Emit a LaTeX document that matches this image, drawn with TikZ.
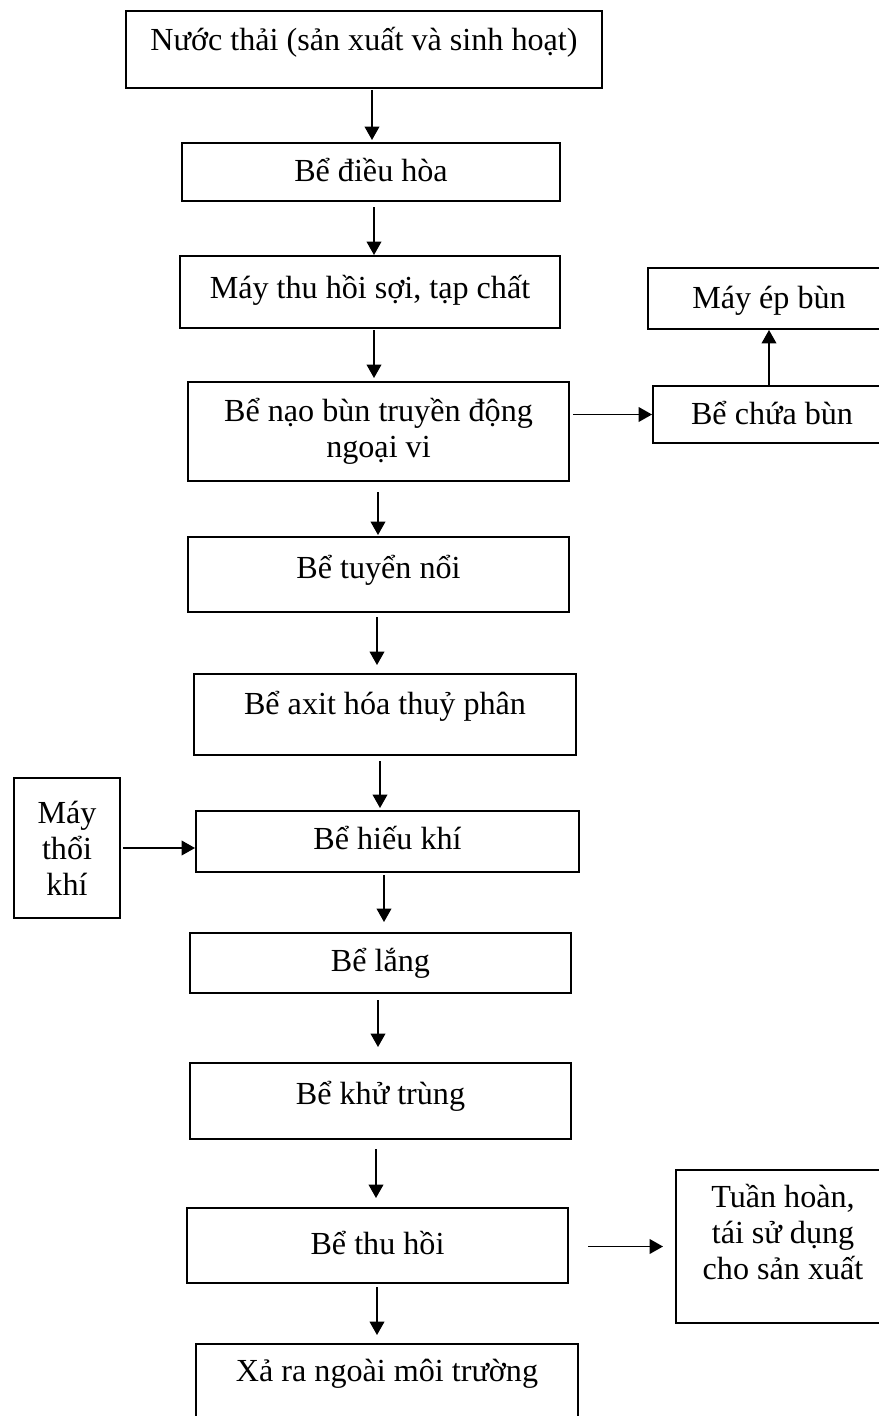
\documentclass[tikz,border=0pt]{standalone}
\usepackage{fontspec}
\setmainfont{Liberation Serif}
\usetikzlibrary{arrows.meta}

\newlength{\px}
\setlength{\px}{0.75pt}

\tikzset{
  stage/.style={draw, line width=1.5pt, anchor=north west, align=center,
    inner xsep=0pt, inner ysep=0pt, text height=15pt,
    font=\fontsize{24.1pt}{27pt}\selectfont},
  flow/.style={line width=1.1pt, -{Triangle[length=10pt,width=11pt]}}
}

\begin{document}
\begin{tikzpicture}[x=\px, y=-\px]

\useasboundingbox (0,0) rectangle (878,1416);

% main line of tanks
\node[stage, minimum width=476\px, minimum height=77\px, text depth=17\px] (nuoc) at (125,10) {Nước thải (sản xuất và sinh hoạt)};
\node[stage, minimum width=378\px, minimum height=58\px, text depth=2\px] (dieuhoa) at (181,142) {Bể điều hòa};
\node[stage, minimum width=380\px, minimum height=72\px, text depth=8\px] (maythuhoi) at (179,255) {Máy thu hồi sợi, tạp chất};
\node[stage, minimum width=381\px, minimum height=99\px, text height=, text depth=] (naobun) at (187,381) {Bể nạo bùn truyền động\\ngoại vi};
\node[stage, minimum width=381\px, minimum height=75\px, text depth=13\px] (tuyennoi) at (187,536) {Bể tuyển nổi};
\node[stage, minimum width=382\px, minimum height=81\px, text depth=21\px] (axit) at (193,673) {Bể axit hóa thuỷ phân};
\node[stage, minimum width=383\px, minimum height=61\px, text depth=5\px] (hieukhi) at (195,810) {Bể hiếu khí};
\node[stage, minimum width=381\px, minimum height=60\px, text depth=4\px] (lang) at (189,932) {Bể lắng};
\node[stage, minimum width=381\px, minimum height=76\px, text depth=14\px] (khutrung) at (189,1062) {Bể khử trùng};
\node[stage, minimum width=381\px, minimum height=75\px, text depth=3\px] (thuhoi) at (186,1207) {Bể thu hồi};
\node[stage, minimum width=382\px, minimum height=76\px, text depth=22\px] (xa) at (195,1343) {Xả ra ngoài môi trường};

% side boxes
\node[stage, minimum width=242\px, minimum height=61\px, text depth=0pt] (epbun) at (647,267) {Máy ép bùn};
\node[stage, minimum width=238\px, minimum height=57\px, text depth=0pt] (chuabun) at (652,385) {Bể chứa bùn};
\node[stage, minimum width=106\px, minimum height=140\px, text height=, text depth=] (thoikhi) at (13,777) {Máy\\thổi\\khí};
\node[stage, minimum width=214\px, minimum height=153\px, text height=, text depth=30\px] (tuanhoan) at (675,1169) {Tuần hoàn,\\tái sử dụng\\cho sản xuất};

% down arrows
\foreach \a/\b/\x/\s/\e in {nuoc/dieuhoa/372/1/2, dieuhoa/maythuhoi/374/5/0,
    maythuhoi/naobun/374/1/3, naobun/tuyennoi/378/10/1, tuyennoi/axit/377/4/8,
    axit/hieukhi/380/5/2, hieukhi/lang/384/2/10, lang/khutrung/378/6/15,
    khutrung/thuhoi/376/9/9, thuhoi/xa/377/3/8} {
  \draw[flow, shorten <=\s\px, shorten >=\e\px] (\a.south -| \x,0) -- (\b.north -| \x,0);
}

% side arrows
\draw[flow, shorten <=3\px] (naobun.east |- chuabun.west) -- (chuabun.west);
\draw[flow] (chuabun.north -| 769,0) -- (epbun.south -| 769,0);
\draw[flow, shorten <=2\px] (thoikhi.east) -- (thoikhi.east -| hieukhi.west);
\draw[flow, shorten <=19\px, shorten >=12\px] (thuhoi.east |- tuanhoan.west) -- (tuanhoan.west);

\end{tikzpicture}
\end{document}
